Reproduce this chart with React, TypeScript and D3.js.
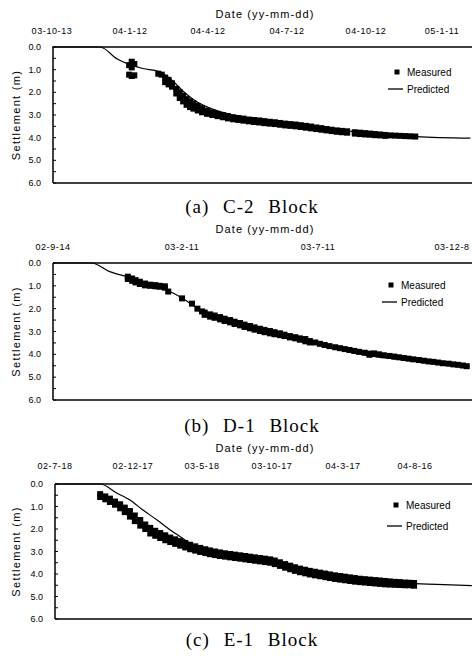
import React, { useEffect, useRef } from 'react';
import * as d3 from 'd3';

type Row = number[];

// x values are days after the first tick date, y values are settlement (m)

// (a) C-2 Block
const ticksA = ['2003-10-13', '2004-01-12', '2004-04-12', '2004-07-12', '2004-10-12', '2005-01-11'];
const labelsA = ['03-10-13', '04-1-12', '04-4-12', '04-7-12', '04-10-12', '05-1-11'];
const predictedA: Row[] = [
  [0, 0], [56, 0], [76, 0.53], [91, 0.78], [106, 0.95], [124, 1.07], [138, 1.4], [153, 1.95],
  [169, 2.42], [193, 2.82], [216, 3.05], [231, 3.17], [254, 3.28], [289, 3.42], [348, 3.72],
  [406, 3.9], [426, 3.95], [490, 4.02],
];
// [day, reading, reading, ...]
const measuredA: Row[] = [
  [90, 0.8, 1.22], [93, 0.65, 0.9, 1.28], [96, 0.75, 1.25], [124, 1.18], [128, 1.22],
  [132, 1.35, 1.55], [136, 1.45, 1.65], [140, 1.6, 1.75], [145, 1.85, 2.05], [149, 2.0, 2.25],
  [153, 2.15, 2.4], [157, 2.3, 2.55], [161, 2.4, 2.65], [165, 2.5, 2.72], [170, 2.6, 2.8],
  [175, 2.7, 2.88], [181, 2.8, 2.95], [187, 2.88, 3.0], [193, 2.95, 3.05], [199, 3.0, 3.1],
  [205, 3.05, 3.15], [211, 3.1, 3.19], [217, 3.13, 3.22], [223, 3.16, 3.25], [229, 3.2, 3.28],
  [235, 3.22, 3.31], [241, 3.24, 3.33], [247, 3.27, 3.36], [253, 3.3, 3.38], [259, 3.32, 3.4],
  [265, 3.35, 3.43], [271, 3.38, 3.46], [277, 3.4, 3.48], [283, 3.42, 3.5], [289, 3.45, 3.53],
  [295, 3.48, 3.56], [301, 3.51, 3.59], [307, 3.55, 3.62], [313, 3.58, 3.65], [319, 3.62, 3.68],
  [325, 3.65, 3.71], [331, 3.68, 3.74], [337, 3.7, 3.76], [343, 3.72, 3.78], [352, 3.76, 3.82],
  [358, 3.78, 3.84], [364, 3.8, 3.86], [370, 3.82, 3.87], [376, 3.84, 3.89], [382, 3.86, 3.9],
  [388, 3.88, 3.92], [394, 3.9], [400, 3.91], [406, 3.92], [412, 3.93], [418, 3.94], [424, 3.95],
];

// (b) D-1 Block
const ticksB = ['2002-09-14', '2003-02-11', '2003-07-11', '2003-12-08'];
const labelsB = ['02-9-14', '03-2-11', '03-7-11', '03-12-8'];
const predictedB: Row[] = [
  [0, 0], [45, 0], [66, 0.38], [90, 0.64], [113, 0.93], [130, 1.15], [151, 1.55], [166, 1.95],
  [189, 2.33], [211, 2.65], [225, 2.83], [247, 3.05], [269, 3.25], [299, 3.55], [333, 3.9],
  [357, 4.08], [402, 4.3], [459, 4.53],
];
const measuredB: Row[] = [
  [87, 0.6, 0.7], [92, 0.68, 0.78], [96, 0.75, 0.85], [101, 0.82, 0.92], [107, 0.9, 0.98],
  [113, 0.95, 1.0], [119, 0.97, 1.02], [124, 1.0, 1.04], [130, 1.02, 1.08], [134, 1.25],
  [150, 1.55], [161, 1.78], [167, 2.0], [172, 2.12],
  [175, 2.17, 2.27], [181, 2.25, 2.35], [186, 2.3, 2.4], [192, 2.37, 2.47], [197, 2.44, 2.54],
  [203, 2.5, 2.6], [208, 2.57, 2.67], [214, 2.63, 2.73], [219, 2.7, 2.8], [225, 2.76, 2.86],
  [230, 2.82, 2.92], [236, 2.88, 2.98], [241, 2.93, 3.03], [247, 2.98, 3.08], [252, 3.03, 3.12],
  [258, 3.08, 3.16], [263, 3.14, 3.2], [269, 3.2, 3.26], [275, 3.25, 3.3], [280, 3.3, 3.36],
  [286, 3.33, 3.43], [291, 3.42, 3.48], [297, 3.48], [302, 3.54], [307, 3.59], [312, 3.64],
  [318, 3.69], [323, 3.73], [328, 3.77], [333, 3.81], [338, 3.85], [343, 3.89], [349, 3.93],
  [354, 3.97, 4.02], [359, 3.96], [364, 4.0], [369, 4.04], [375, 4.07], [380, 4.1], [385, 4.13],
  [390, 4.16], [395, 4.19], [400, 4.22], [406, 4.25], [411, 4.28], [416, 4.31], [421, 4.33],
  [426, 4.36], [431, 4.39], [437, 4.41], [442, 4.44], [447, 4.46], [452, 4.49], [456, 4.52],
];

// (c) E-1 Block
const ticksC = ['2002-07-18', '2002-12-17', '2003-05-18', '2003-10-17', '2004-03-17', '2004-08-16'];
const labelsC = ['02-7-18', '02-12-17', '03-5-18', '03-10-17', '04-3-17', '04-8-16'];
const predictedC: Row[] = [
  [0, 0], [88, 0], [121, 0.41], [146, 0.71], [174, 1.16], [205, 1.6], [234, 2.04], [256, 2.34],
  [284, 2.71], [311, 2.95], [365, 3.15], [430, 3.33], [473, 3.5], [516, 3.8], [587, 4.1],
  [659, 4.3], [728, 4.4], [760, 4.43], [806, 4.46], [880, 4.52],
];
const measuredC: Row[] = [
  [88, 0.45, 0.58], [98, 0.55, 0.68], [107, 0.65, 0.8], [117, 0.78, 0.92], [127, 0.9, 1.08],
  [136, 1.05, 1.25], [146, 1.2, 1.45], [156, 1.4, 1.65], [168, 1.6, 1.85], [179, 1.8, 2.0],
  [190, 1.95, 2.2], [201, 2.08, 2.3], [212, 2.18, 2.4], [223, 2.28, 2.5], [234, 2.38, 2.58],
  [245, 2.46, 2.66], [256, 2.54, 2.74], [267, 2.62, 2.82], [278, 2.7, 2.9], [289, 2.77, 2.96],
  [300, 2.84, 3.02], [311, 2.9, 3.07], [321, 2.95, 3.12], [332, 3.0, 3.16], [343, 3.04, 3.2],
  [354, 3.08, 3.23], [365, 3.11, 3.26], [376, 3.14, 3.29], [387, 3.17, 3.32], [398, 3.2, 3.35],
  [408, 3.23, 3.38], [419, 3.26, 3.41], [430, 3.29, 3.44], [441, 3.32, 3.47], [452, 3.35, 3.5],
  [462, 3.4, 3.56], [473, 3.48, 3.64], [484, 3.56, 3.72], [495, 3.63, 3.79], [505, 3.7, 3.86],
  [516, 3.76, 3.92], [527, 3.81, 3.97], [537, 3.86, 4.02], [548, 3.9, 4.06], [559, 3.94, 4.1],
  [570, 3.98, 4.14], [580, 4.02, 4.18], [591, 4.06, 4.22], [602, 4.09, 4.25], [612, 4.12, 4.28],
  [623, 4.15, 4.31], [633, 4.18, 4.34], [644, 4.21, 4.36], [654, 4.23, 4.38], [665, 4.25, 4.4],
  [676, 4.27, 4.42], [686, 4.29, 4.44], [697, 4.31, 4.46], [707, 4.33, 4.47], [718, 4.35, 4.48],
  [728, 4.36, 4.49], [739, 4.38, 4.5], [749, 4.39, 4.5], [758, 4.4, 4.52],
];

const captions = ['(a) C-2 Block', '(b) D-1 Block', '(c) E-1 Block'];
const settlementTicks = [0, 1, 2, 3, 4, 5, 6];
const legendLabels = ['Measured', 'Predicted'];

const panels = [
  { ticks: ticksA, labels: labelsA, predicted: predictedA, measured: measuredA },
  { ticks: ticksB, labels: labelsB, predicted: predictedB, measured: measuredB },
  { ticks: ticksC, labels: labelsC, predicted: predictedC, measured: measuredC },
];

// pixel layout of each panel
const layouts = [
  { top: 47, bottom: 183, left: 53, tickX: [52, 130, 208, 287, 366, 442], titleY: 14, tickY: 31, captionY: 213, legX: 407, legY1: 72, legY2: 89 },
  { top: 263, bottom: 400, left: 53, tickX: [53, 182, 318, 461], titleY: 229, tickY: 247, captionY: 432, legX: 401, legY1: 285, legY2: 302 },
  { top: 484, bottom: 619, left: 55, tickX: [55, 133, 202, 272, 343, 415], titleY: 448, tickY: 466, captionY: 646, legX: 406, legY1: 505, legY2: 526 },
];

const W = 472;
const H = 656;
const SQ = 6;
const SANS = '"Liberation Sans", Arial, sans-serif';

export default function App() {
  const ref = useRef<SVGSVGElement>(null);

  useEffect(() => {
    const svg = d3.select(ref.current);
    svg.selectAll('*').remove();
    const parse = d3.utcParse('%Y-%m-%d');

    panels.forEach((p, i) => {
      const L = layouts[i];
      const dates = p.ticks.map((t) => parse(t) as Date);
      const x = d3.scaleUtc().domain(dates).range(L.tickX);
      const y = d3.scaleLinear().domain([0, 6]).range([L.top, L.bottom]);
      const day = (d: number) => new Date(dates[0].getTime() + d * 864e5);
      const g = svg.append('g');

      // frame
      g.append('line').attr('x1', L.left).attr('x2', W).attr('y1', L.top).attr('y2', L.top)
        .attr('stroke', '#000').attr('stroke-width', 1.5);
      g.append('line').attr('x1', L.left).attr('x2', W).attr('y1', L.bottom).attr('y2', L.bottom)
        .attr('stroke', '#000').attr('stroke-width', 1.5);
      g.append('line').attr('x1', L.left).attr('x2', L.left).attr('y1', L.top).attr('y2', L.bottom)
        .attr('stroke', '#000').attr('stroke-width', 1.5);

      // minor ticks on the settlement axis
      g.selectAll('.mt').data(d3.range(0, 6.01, 0.5)).enter().append('line')
        .attr('x1', L.left).attr('x2', L.left + 3)
        .attr('y1', (d) => y(d)).attr('y2', (d) => y(d))
        .attr('stroke', '#000').attr('stroke-width', 1);

      g.selectAll('.yl').data(settlementTicks).enter().append('text')
        .attr('x', L.left - 12).attr('y', (d) => y(d))
        .attr('text-anchor', 'end').attr('dominant-baseline', 'central')
        .style('font-family', SANS).style('font-size', '9px')
        .text((d) => d3.format('.1f')(d));

      // date labels, kept inside the picture at the right edge
      g.selectAll('.xl').data(p.labels).enter().append('text')
        .attr('x', (_d, j) => Math.min(x(dates[j]), W - 20)).attr('y', L.tickY)
        .attr('text-anchor', 'middle').attr('dominant-baseline', 'central')
        .style('font-family', SANS).style('font-size', '9px').style('letter-spacing', '0.6px')
        .text((d) => d);

      g.append('text').attr('x', 265).attr('y', L.titleY)
        .attr('text-anchor', 'middle').attr('dominant-baseline', 'central')
        .style('font-family', SANS).style('font-size', '11px').style('letter-spacing', '1.1px')
        .text('Date (yy-mm-dd)');

      g.append('text')
        .attr('transform', `translate(16,${(L.top + L.bottom) / 2}) rotate(-90)`)
        .attr('text-anchor', 'middle').attr('dominant-baseline', 'central')
        .style('font-family', SANS).style('font-size', '11px').style('letter-spacing', '1.3px')
        .text('Settlement (m)');

      // predicted curve
      const line = d3.line<Row>().x((d) => x(day(d[0]))).y((d) => y(d[1])).curve(d3.curveMonotoneX);
      g.append('path').datum(p.predicted).attr('d', line)
        .attr('fill', 'none').attr('stroke', '#000').attr('stroke-width', 1.2);

      // measured squares
      const pts = p.measured.flatMap((r) => r.slice(1).map((v) => [r[0], v]));
      g.selectAll('.m').data(pts).enter().append('rect')
        .attr('x', (d) => x(day(d[0])) - SQ / 2).attr('y', (d) => y(d[1]) - SQ / 2)
        .attr('width', SQ).attr('height', SQ).attr('fill', '#000');

      // legend
      g.append('rect').attr('x', L.legX - 12.5).attr('y', L.legY1 - 2.5)
        .attr('width', 5).attr('height', 5).attr('fill', '#000');
      g.append('line').attr('x1', L.legX - 19).attr('x2', L.legX - 4)
        .attr('y1', L.legY2).attr('y2', L.legY2).attr('stroke', '#000').attr('stroke-width', 1.3);
      g.selectAll('.lg').data(legendLabels).enter().append('text')
        .attr('x', L.legX).attr('y', (_d, j) => (j === 0 ? L.legY1 : L.legY2))
        .attr('dominant-baseline', 'central')
        .style('font-family', SANS).style('font-size', '10px')
        .text((d) => d);

      g.append('text').attr('x', 252).attr('y', L.captionY).attr('text-anchor', 'middle')
        .style('font-family', '"Liberation Serif", "Times New Roman", serif')
        .style('font-size', '19px').style('letter-spacing', '1px').style('word-spacing', '8px')
        .text(captions[i]);
    });
  }, []);

  return (
    <svg
      ref={ref}
      width={W}
      height={H}
      style={{ position: 'absolute', left: 0, top: 0, background: '#fff' }}
    />
  );
}
